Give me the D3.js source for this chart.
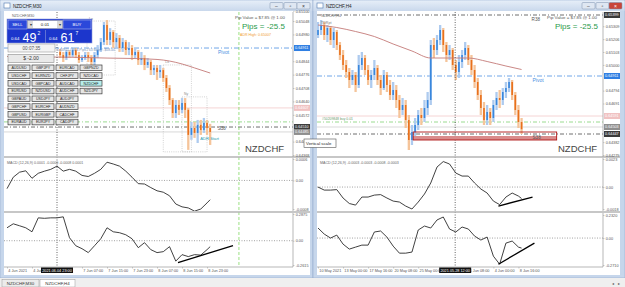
<!DOCTYPE html>
<html>
<head>
<meta charset="utf-8">
<script src="https://cdn.jsdelivr.net/npm/d3@7/dist/d3.min.js"></script>
<style>
  body { margin: 0; background: #f0f0f0; }
  svg { display: block; font-family: "Liberation Sans", Arial, sans-serif; }
</style>
</head>
<body>
<svg id="chart" width="625" height="287"></svg>
<script>
// ---------------- NZDCHF,M30 (left window) ----------------
var m30Start = 17;
// open, high, low, close
var m30Candles = [
  [0.64891,0.64906,0.64860,0.64875],[0.64875,0.64891,0.64840,0.64860],[0.64860,0.64901,0.64850,0.64891],
  [0.64891,0.64901,0.64860,0.64875],[0.64875,0.64916,0.64865,0.64901],[0.64901,0.64911,0.64860,0.64875],
  [0.64875,0.64891,0.64835,0.64850],[0.64850,0.64875,0.64840,0.64860],[0.64860,0.64891,0.64850,0.64875],
  [0.64875,0.64891,0.64840,0.64860],[0.64860,0.64875,0.64810,0.64840],[0.64840,0.64891,0.64825,0.64875],
  [0.64875,0.64926,0.64860,0.64901],[0.64901,0.64962,0.64891,0.64941],[0.64941,0.65043,0.64926,0.65028],
  [0.65028,0.65053,0.64926,0.64952],[0.64952,0.65012,0.64926,0.64992],[0.64992,0.65002,0.64911,0.64941],
  [0.64941,0.64987,0.64911,0.64962],[0.64962,0.64977,0.64891,0.64911],[0.64911,0.64962,0.64891,0.64941],
  [0.64941,0.64952,0.64875,0.64901],[0.64901,0.64941,0.64875,0.64911],[0.64911,0.64926,0.64850,0.64875],
  [0.64875,0.64911,0.64860,0.64891],[0.64891,0.64901,0.64825,0.64850],[0.64850,0.64891,0.64825,0.64860],
  [0.64860,0.64875,0.64799,0.64825],[0.64825,0.64860,0.64810,0.64840],[0.64840,0.64850,0.64774,0.64799],
  [0.64799,0.64825,0.64774,0.64810],[0.64810,0.64825,0.64749,0.64789],[0.64789,0.64825,0.64759,0.64799],
  [0.64799,0.64810,0.64739,0.64759],[0.64759,0.64774,0.64688,0.64708],[0.64708,0.64723,0.64622,0.64647],
  [0.64647,0.64657,0.64556,0.64581],[0.64581,0.64647,0.64556,0.64622],[0.64622,0.64647,0.64571,0.64597],
  [0.64597,0.64657,0.64581,0.64632],[0.64632,0.64657,0.64556,0.64597],[0.64597,0.64607,0.64394,0.64470],
  [0.64470,0.64536,0.64445,0.64505],[0.64505,0.64536,0.64455,0.64480],[0.64480,0.64546,0.64429,0.64521],
  [0.64521,0.64546,0.64470,0.64495],[0.64495,0.64556,0.64480,0.64531],[0.64531,0.64546,0.64470,0.64505],
  [0.64505,0.64526,0.64419,0.64485]
];
var m30MaT = [0, 8, 16, 24, 32, 40, 48, 52, 56, 60, 65];
var m30Ma = [0.64868, 0.64865, 0.64865, 0.64863, 0.64860, 0.64858, 0.64853, 0.64845, 0.64830, 0.64810, 0.64784];
var m30LevelPrices = [0.64911, 0.64607, 0.64536, 0.64510, 0.64485];
var m30LevelKinds = ["pivot", "pink", "green", "dark", "bid"];
// labels hidden under the level boxes are left out
var m30PriceTicks = [0.64368, 0.64436, 0.64572, 0.64640, 0.64708, 0.64776, 0.64844, 0.64980, 0.65048, 0.65100];
var m30Macd = [-0.00023, 0.00009, 0.00023, 0.00027, 0.00006, 0.00020, 0.00026, 0.00031, 0.00040, 0.00026, 0.00031, 0.00026,
  0.00014, 0.00011, 0.00020, 0.00031, 0.00051, 0.00046, 0.00040, 0.00026, 0.00009, -0.00009, -0.00010, -0.00020,
  -0.00029, -0.00033, -0.00043, -0.00066, -0.00074, -0.00077, -0.00086, -0.00080, -0.00063, -0.00054];
var m30Osc = [0.139, 0.182, 0.161, 0.139, 0.096, 0.246, 0.241, 0.246, 0.246, 0.257, 0.032, -0.054, -0.086, -0.128,
  -0.054, 0.021, 0.139, 0.096, 0.086, 0.064, 0.021, -0.075, -0.021, -0.096, -0.128, -0.118, -0.064, -0.220,
  -0.150, -0.171, -0.150, -0.155, -0.096, -0.064];
var m30MacdTicks = [0.0006, 0, -0.0008];
var m30MacdLabels = ["0.0006", "0.00", "-0.0008"];
var m30OscTicks = [0.2875, 0, -0.2615];
var m30OscLabels = ["0.2875", "0.00", "-0.2615"];
// the 4 Jun 23:00 label sits under the cursor box, so it is not listed
var m30TimeTicks = [0, 8, 24, 32, 40, 48, 56, 64];
var m30TimeLabels = ["4 Jun 2021", "4 Jun 15:00", "7 Jun 07:00", "7 Jun 15:00", "7 Jun 23:00",
  "8 Jun 07:00", "8 Jun 15:00", "8 Jun 23:00"];
var m30Cursor = 16, m30CursorLabel = "2021.06.04 23:00";
var m30GreenLine = 74.2;
var m30Trend = [[54.7, -0.235], [72.3, -0.054]];
// t0, t1, top price, bottom price
var m30Sessions = [[25.6, 34.6, 0.65048, 0.64774], [50, 59, 0.64825, 0.64384], [56, 64, 0.64663, 0.64384]];
var m30SessionNames = ["Lo", "Lo", "Ny"];

// ---------------- NZDCHF,H4 (right window) ----------------
var h4Start = 0;
var h4Candles = [
  [0.65239,0.65343,0.65215,0.65279],[0.65279,0.65359,0.65239,0.65319],[0.65319,0.65343,0.65199,0.65239],
  [0.65239,0.65319,0.65183,0.65295],[0.65295,0.65311,0.65159,0.65199],[0.65199,0.65295,0.65135,0.65263],
  [0.65263,0.65279,0.65119,0.65159],[0.65159,0.65183,0.65039,0.65079],[0.65079,0.65119,0.64959,0.64999],
  [0.64999,0.65039,0.64895,0.64943],[0.64943,0.64975,0.64815,0.64879],[0.64879,0.64959,0.64839,0.64919],
  [0.64919,0.64943,0.64783,0.64839],[0.64839,0.65079,0.64815,0.64999],[0.64999,0.65103,0.64959,0.65055],
  [0.65055,0.65079,0.64919,0.64959],[0.64959,0.64999,0.64839,0.64879],[0.64879,0.64959,0.64815,0.64919],
  [0.64919,0.65039,0.64879,0.64975],[0.64975,0.64999,0.64839,0.64879],[0.64879,0.64919,0.64759,0.64815],
  [0.64815,0.64959,0.64799,0.64919],[0.64919,0.64943,0.64783,0.64839],[0.64839,0.64879,0.64719,0.64759],
  [0.64759,0.64863,0.64719,0.64799],[0.64799,0.64839,0.64655,0.64719],[0.64719,0.64759,0.64575,0.64639],
  [0.64639,0.64735,0.64599,0.64679],[0.64679,0.64719,0.64495,0.64559],[0.64559,0.64599,0.64319,0.64399],
  [0.64399,0.64519,0.64359,0.64463],[0.64463,0.64575,0.64415,0.64519],[0.64519,0.64639,0.64479,0.64599],
  [0.64599,0.64655,0.64519,0.64575],[0.64575,0.64719,0.64543,0.64655],[0.64655,0.64783,0.64599,0.64719],
  [0.64719,0.65199,0.64679,0.65159],[0.65159,0.65215,0.65055,0.65119],[0.65119,0.65239,0.65079,0.65199],
  [0.65199,0.65319,0.65159,0.65279],[0.65279,0.65295,0.65103,0.65159],[0.65159,0.65183,0.65023,0.65079],
  [0.65079,0.65159,0.65039,0.65119],[0.65119,0.65135,0.64959,0.64999],[0.64999,0.65039,0.64879,0.64943],
  [0.64943,0.65079,0.64895,0.65023],[0.65023,0.65119,0.64975,0.65079],[0.65079,0.65183,0.65039,0.65135],
  [0.65135,0.65159,0.64999,0.65039],[0.65039,0.65079,0.64919,0.64959],[0.64959,0.64999,0.64815,0.64863],
  [0.64863,0.64895,0.64719,0.64759],[0.64759,0.64799,0.64599,0.64655],[0.64655,0.64703,0.64519,0.64559],
  [0.64559,0.64679,0.64519,0.64623],[0.64623,0.64655,0.64519,0.64575],[0.64575,0.64719,0.64543,0.64679],
  [0.64679,0.64783,0.64639,0.64735],[0.64735,0.64799,0.64655,0.64719],[0.64719,0.64815,0.64679,0.64783],
  [0.64783,0.64863,0.64735,0.64815],[0.64815,0.64895,0.64783,0.64863],[0.64863,0.64879,0.64719,0.64759],
  [0.64759,0.64783,0.64599,0.64639],[0.64639,0.64679,0.64495,0.64543],[0.64543,0.64575,0.64447,0.64485]
];
var h4MaT = [0, 6, 12, 18, 24, 30, 36, 42, 48, 54, 60, 65];
var h4Ma = [0.65319, 0.65299, 0.65267, 0.65227, 0.65167, 0.65111, 0.65055, 0.65055, 0.65055, 0.65027, 0.64991, 0.64963];
var h4LevelPrices = [0.65399, 0.64911, 0.64591, 0.64543, 0.64503, 0.64447];
var h4LevelKinds = ["dark", "pivot", "pink", "green", "bid", "dark"];
// labels hidden under the level boxes are left out
var h4PriceTicks = [0.64279, 0.64382, 0.64691, 0.64794, 0.65000, 0.65103, 0.65206, 0.65309];
var h4Macd = [0, -0.00025, -0.00025, -0.00021, -0.00090, -0.00135, -0.00148, -0.00082, -0.00082, -0.00066, -0.00062,
  -0.00090, -0.00115, -0.00123, -0.00156, -0.00180, -0.00123, -0.00057, 0.00033, 0.00164, 0.00209, 0.00189, 0.00115,
  0.00090, 0.00090, 0.00033, -0.00016, -0.00049, -0.00115, -0.00144, -0.00082, -0.00049, -0.00074, -0.00094];
var h4Osc = [0.101, 0.040, 0, 0.030, -0.061, -0.111, -0.091, -0.071, -0.071, 0.061, 0.071, 0.010, -0.081, -0.152,
  -0.152, -0.141, 0.081, 0.121, 0.101, 0.182, 0.212, 0.091, 0.061, 0.111, 0.091, 0.020, -0.020, 0.010, -0.182,
  -0.263, -0.051, -0.030, -0.091, -0.101];
var h4MacdTicks = [0.0023, 0, -0.0018];
var h4MacdLabels = ["0.0023", "0.00", "-0.0018"];
var h4OscTicks = [0.232, 0, -0.271];
var h4OscLabels = ["0.2320", "0.00", "-0.2710"];
// the 27 May label sits under the cursor box, so it is not listed
var h4TimeTicks = [0, 8, 16, 24, 32, 48, 56, 64];
var h4TimeLabels = ["10 May 2021", "13 May 00:00", "17 May 16:00", "20 May 08:00", "25 May 00:00",
  "1 Jun 08:00", "4 Jun 00:00", "8 Jun 16:00"];
var h4Cursor = 43.8, h4CursorLabel = "2021.05.28 12:00";
var h4MacdTrend = [[57.6, -0.00156], [68.5, -0.00082]];
var h4Trend = [[57.6, -0.263], [69.1, -0.051]];
var h4Zone = [30.4, 76.2, 0.64463, 0.64399, 0.64431];

// trade panel
var panelSymbols = [
  ["AUDUSD", "GBPJPY", "EURCAD", "GBPNZD"],
  ["USDCHF", "EURNZD", "CHFJPY", "NZDCAD"],
  ["USDCAD", "GBPCAD", "AUDCAD", "NZDCHF"],
  ["EURUSD", "NZDUSD", "AUDCHF", "NZDJPY"],
  ["GBPAUD", "USDJPY", "AUDJPY"],
  ["GBPCHF", "EURCHF", "AUDNZD"],
  ["GBPUSD", "EURGBP", "CADCHF"],
  ["EURAUD", "EURJPY", "CADJPY"]
];
var bidParts = ["0.64", "49", "2"];
var askParts = ["0.64", "61", "7"];

var oscT = d3.range(0, 65, 2).concat([65]);

// ---------------------------------------------------------
var svg = d3.select("#chart");
var fmt5 = d3.format(".5f");
var small = 3.8;

var defs = svg.append("defs");
var tg = defs.append("linearGradient").attr("id", "titleGrad").attr("x1", 0).attr("y1", 0).attr("x2", 0).attr("y2", 1);
tg.append("stop").attr("offset", "0%").attr("stop-color", "#e6eef8");
tg.append("stop").attr("offset", "100%").attr("stop-color", "#c9d8ec");

svg.append("rect").attr("width", 625).attr("height", 287).attr("fill", "#f0f0f0");

function drawWindow(x0, x1, title, closeRed) {
  svg.append("rect").attr("x", x0).attr("y", 0).attr("width", x1 - x0).attr("height", 278)
    .attr("fill", "#c6d6eb").attr("stroke", "#93aacb").attr("stroke-width", 0.6);
  svg.append("rect").attr("x", x0 + 0.5).attr("y", 0.5).attr("width", x1 - x0 - 1).attr("height", 10.5)
    .attr("fill", "url(#titleGrad)");
  svg.append("rect").attr("x", x0 + 4).attr("y", 3).attr("width", 6).attr("height", 5)
    .attr("fill", "#fff").attr("stroke", "#4f78b0").attr("stroke-width", 0.6);
  svg.append("text").attr("x", x0 + 13).attr("y", 7.6).attr("font-size", 4.6).attr("fill", "#222").text(title);
  [x1 - 43, x1 - 29, x1 - 16].forEach(function(b, i) {
    var red = (i == 2 && closeRed);
    svg.append("rect").attr("x", b).attr("y", 2.5).attr("width", 13).attr("height", 6.5).attr("rx", 1)
      .attr("fill", red ? "#c8453a" : "#dfe7f2").attr("stroke", "#7d91ae").attr("stroke-width", 0.5);
    svg.append("text").attr("x", b + 6.5).attr("y", 7.6).attr("text-anchor", "middle").attr("font-size", 5)
      .attr("fill", red ? "#fff" : "#333").text(["–", "▫", "×"][i]);
  });
}

drawWindow(0, 313, "NZDCHF,M30", false);
drawWindow(313, 625, "NZDCHF,H4", true);

function drawChart(c) {
  var g = svg.append("g");
  g.append("rect").attr("x", c.left).attr("y", 11).attr("width", c.right - c.left).attr("height", 264).attr("fill", "#fff");

  var x = d3.scaleLinear().domain(c.tDomain).range([c.dataX, c.axisX]);
  var y = d3.scaleLinear().domain(c.pDomain).range([155, c.pTopY]);
  var ym = d3.scaleLinear().domain([c.macdTicks[2], c.macdTicks[0]]).range([209, 159]);
  var yo = d3.scaleLinear().domain([c.oscTicks[2], c.oscTicks[0]]).range([265, c.oscTopY]);

  var clipMain = "clipMain" + c.id, clipM = "clipM" + c.id, clipO = "clipO" + c.id;
  defs.append("clipPath").attr("id", clipMain).append("rect")
    .attr("x", c.left).attr("y", 12).attr("width", c.axisX - c.left).attr("height", 145);
  defs.append("clipPath").attr("id", clipM).append("rect")
    .attr("x", c.left).attr("y", 158).attr("width", c.axisX - c.left).attr("height", 53);
  defs.append("clipPath").attr("id", clipO).append("rect")
    .attr("x", c.left).attr("y", 213).attr("width", c.axisX - c.left).attr("height", 54);

  var main = g.append("g").attr("clip-path", "url(#" + clipMain + ")");

  // price levels
  var lvStyle = {
    pivot: {stroke: "#4b90e2", dash: "5,2,1,2", box: "#2f7fe3"},
    pink: {stroke: "#f3c9c9", dash: null, box: "#f0c2c2"},
    green: {stroke: "#82d274", dash: "4,2,1,2", box: null},
    dark: {stroke: "#4a4a4a", dash: "4,2,1,2", box: "#3a3a3a"},
    bid: {stroke: "#cfcfcf", dash: null, box: "#8e8e8e"}
  };
  c.levelPrices.forEach(function(p, i) {
    var s = lvStyle[c.levelKinds[i]];
    main.append("line").attr("x1", c.left).attr("x2", c.axisX).attr("y1", y(p)).attr("y2", y(p))
      .attr("stroke", s.stroke).attr("stroke-width", 0.8).attr("stroke-dasharray", s.dash);
  });

  // dotted cursor line + green vertical
  [[c.cursor, "#222", "1,1.5"]].concat(c.greenLine != null ? [[c.greenLine, "#6fd24a", "3,2"]] : [])
    .forEach(function(v) {
      g.append("line").attr("x1", x(v[0])).attr("x2", x(v[0])).attr("y1", 12).attr("y2", 267)
        .attr("stroke", v[1]).attr("stroke-width", 0.7).attr("stroke-dasharray", v[2]);
    });

  // session boxes
  (c.sessions || []).forEach(function(s, i) {
    main.append("rect").attr("x", x(s[0])).attr("y", y(s[2])).attr("width", x(s[1]) - x(s[0]))
      .attr("height", y(s[3]) - y(s[2])).attr("fill", "none").attr("stroke", "#b4b4b4")
      .attr("stroke-width", 0.6).attr("stroke-dasharray", "1,1.2");
    main.append("text").attr("x", x(s[0]) + 2).attr("y", y(s[2]) - 1.5).attr("font-size", 3.4)
      .attr("fill", "#888").text(c.sessionNames[i]);
  });

  // zone rectangle
  if (c.zone) {
    var z = c.zone;
    g.append("rect").attr("x", x(z[0])).attr("y", y(z[4])).attr("width", x(z[1]) - x(z[0]))
      .attr("height", y(z[3]) - y(z[4])).attr("fill", "#d98c8c");
    g.append("rect").attr("x", x(z[0])).attr("y", y(z[2])).attr("width", x(z[1]) - x(z[0]))
      .attr("height", y(z[3]) - y(z[2])).attr("fill", "none").attr("stroke", "#b01818").attr("stroke-width", 0.9);
  }

  // candles
  var bars = main.selectAll(null).data(c.candles).enter().append("g");
  bars.append("line")
    .attr("x1", function(d, i) { return x(c.start + i); })
    .attr("x2", function(d, i) { return x(c.start + i); })
    .attr("y1", function(d) { return y(d[1]); })
    .attr("y2", function(d) { return y(d[2]); })
    .attr("stroke", function(d) { return d[3] >= d[0] ? "#aecbef" : "#f5c49a"; })
    .attr("stroke-width", 2.3);
  bars.append("rect")
    .attr("x", function(d, i) { return x(c.start + i) - 0.8; })
    .attr("width", 1.6)
    .attr("y", function(d) { return y(Math.max(d[0], d[3])); })
    .attr("height", function(d) { return Math.max(0.8, Math.abs(y(d[0]) - y(d[3]))); })
    .attr("fill", function(d) { return d[3] >= d[0] ? "#3987dd" : "#e8701c"; });

  // moving average
  main.append("path").datum(c.maT.map(function(t, i) { return [t, c.ma[i]]; }))
    .attr("fill", "none").attr("stroke", "#c47a78").attr("stroke-width", 0.9)
    .attr("d", d3.line().x(function(d) { return x(d[0]); }).y(function(d) { return y(d[1]); }).curve(d3.curveMonotoneX));

  // oscillators
  var mg = g.append("g").attr("clip-path", "url(#" + clipM + ")");
  var og = g.append("g").attr("clip-path", "url(#" + clipO + ")");
  mg.append("line").attr("x1", c.left).attr("x2", c.axisX).attr("y1", ym(0)).attr("y2", ym(0))
    .attr("stroke", "#666").attr("stroke-width", 0.6).attr("stroke-dasharray", "1,1.5");
  og.append("line").attr("x1", c.left).attr("x2", c.axisX).attr("y1", yo(0)).attr("y2", yo(0))
    .attr("stroke", "#666").attr("stroke-width", 0.6).attr("stroke-dasharray", "1,1.5");
  mg.append("path").datum(c.macd).attr("fill", "none").attr("stroke", "#2b2b2b").attr("stroke-width", 0.9)
    .attr("d", d3.line().x(function(d, i) { return x(oscT[i]); }).y(function(d) { return ym(d); }));
  og.append("path").datum(c.osc).attr("fill", "none").attr("stroke", "#2b2b2b").attr("stroke-width", 0.9)
    .attr("d", d3.line().x(function(d, i) { return x(oscT[i]); }).y(function(d) { return yo(d); }));
  if (c.macdTrend) {
    mg.append("line").attr("x1", x(c.macdTrend[0][0])).attr("y1", ym(c.macdTrend[0][1]))
      .attr("x2", x(c.macdTrend[1][0])).attr("y2", ym(c.macdTrend[1][1]))
      .attr("stroke", "#000").attr("stroke-width", 1.3);
  }
  og.append("line").attr("x1", x(c.trend[0][0])).attr("y1", yo(c.trend[0][1]))
    .attr("x2", x(c.trend[1][0])).attr("y2", yo(c.trend[1][1]))
    .attr("stroke", "#000").attr("stroke-width", 1.3);
  g.append("text").attr("x", c.left + 3).attr("y", 164).attr("font-size", 3.6).attr("fill", "#666").text(c.macdTitle);

  // separators and axes lines
  [157, 212].forEach(function(yy) {
    g.append("line").attr("x1", c.left).attr("x2", c.right).attr("y1", yy).attr("y2", yy)
      .attr("stroke", "#b5b5b5").attr("stroke-width", 1.6);
  });

  var styleAxis = function(sel) {
    sel.select(".domain").attr("stroke", "#9a9a9a").attr("stroke-width", 0.7);
    sel.selectAll(".tick line").attr("stroke", "#9a9a9a").attr("stroke-width", 0.5);
    sel.selectAll(".tick text").attr("font-size", small).attr("fill", "#555").attr("font-family", null);
  };
  var pa = g.append("g").attr("transform", "translate(" + c.axisX + ",0)")
    .call(d3.axisRight(y).tickValues(c.priceTicks).tickSize(1.5).tickPadding(1.2).tickFormat(fmt5));
  pa.select(".domain").attr("d", "M0,12V157");
  styleAxis(pa);
  var ma = g.append("g").attr("transform", "translate(" + c.axisX + ",0)")
    .call(d3.axisRight(ym).tickValues(c.macdTicks).tickSize(1.5).tickPadding(1.2)
      .tickFormat(function(d, i) { return c.macdLabels[i]; }));
  ma.select(".domain").attr("d", "M0,158V211");
  styleAxis(ma);
  var oa = g.append("g").attr("transform", "translate(" + c.axisX + ",0)")
    .call(d3.axisRight(yo).tickValues(c.oscTicks).tickSize(1.5).tickPadding(1.2)
      .tickFormat(function(d, i) { return c.oscLabels[i]; }));
  oa.select(".domain").attr("d", "M0,213V267");
  styleAxis(oa);

  var ta = g.append("g").attr("transform", "translate(0,267)")
    .call(d3.axisBottom(x).tickValues(c.timeTicks).tickSize(1.5).tickPadding(1)
      .tickFormat(function(d, i) { return c.timeLabels[i]; }));
  ta.select(".domain").attr("d", "M" + c.left + ",0H" + c.axisX);
  styleAxis(ta);
  ta.selectAll(".tick text").attr("text-anchor", "start").attr("dx", 0.8);

  // level boxes on the price axis
  c.levelPrices.forEach(function(p, i) {
    var s = lvStyle[c.levelKinds[i]];
    if (!s.box) return;
    g.append("rect").attr("x", c.axisX + 1).attr("y", y(p) - 3).attr("width", 16).attr("height", 6)
      .attr("fill", s.box);
    g.append("text").attr("x", c.axisX + 2).attr("y", y(p) + 1.4).attr("font-size", small)
      .attr("fill", "#fff").text(fmt5(p));
  });

  // cursor time box
  g.append("rect").attr("x", x(c.cursor) - 16).attr("y", 267.5).attr("width", 32).attr("height", 5.5).attr("fill", "#111");
  g.append("text").attr("x", x(c.cursor)).attr("y", 271.8).attr("text-anchor", "middle")
    .attr("font-size", small).attr("fill", "#fff").text(c.cursorLabel);

  return {x: x, y: y, g: g};
}

var L = drawChart({
  id: "L", left: 4, right: 310, dataX: 7, axisX: 293, tDomain: [0, 91.5],
  pDomain: [0.64368, 0.65104], pTopY: 10, oscTopY: 214,
  candles: m30Candles, start: m30Start, maT: m30MaT, ma: m30Ma,
  levelPrices: m30LevelPrices, levelKinds: m30LevelKinds, priceTicks: m30PriceTicks,
  macd: m30Macd, osc: m30Osc, macdTicks: m30MacdTicks, macdLabels: m30MacdLabels,
  oscTicks: m30OscTicks, oscLabels: m30OscLabels, timeTicks: m30TimeTicks, timeLabels: m30TimeLabels,
  cursor: m30Cursor, cursorLabel: m30CursorLabel, greenLine: m30GreenLine, trend: m30Trend,
  sessions: m30Sessions, sessionNames: m30SessionNames,
  macdTitle: "MACD (12,26,9) 0.0001 -0.0000 -0.0008 0.0001"
});

var R = drawChart({
  id: "R", left: 317, right: 620, dataX: 318, axisX: 603, tDomain: [0, 91],
  pDomain: [0.64279, 0.65391], pTopY: 16, oscTopY: 215,
  candles: h4Candles, start: h4Start, maT: h4MaT, ma: h4Ma,
  levelPrices: h4LevelPrices, levelKinds: h4LevelKinds, priceTicks: h4PriceTicks,
  macd: h4Macd, osc: h4Osc, macdTicks: h4MacdTicks, macdLabels: h4MacdLabels,
  oscTicks: h4OscTicks, oscLabels: h4OscLabels, timeTicks: h4TimeTicks, timeLabels: h4TimeLabels,
  cursor: h4Cursor, cursorLabel: h4CursorLabel, greenLine: null, trend: h4Trend, macdTrend: h4MacdTrend,
  zone: h4Zone, macdTitle: "MACD (12,26,9) -0.0003 -0.0003 -0.0008 -0.0003"
});

// ---- chart texts ----
function label(x, y, size, color, txt, anchor) {
  svg.append("text").attr("x", x).attr("y", y).attr("font-size", size).attr("fill", color)
    .attr("text-anchor", anchor || "start").text(txt);
}
label(12, 17, 3.6, "#666", "NZDCHF,M30");
label(321, 17, 3.6, "#666", "NZDCHF,H4");
label(321, 23.5, 3.6, "#777", "TDRpt");
label(235, 19, 4.4, "#555", "Pip Value = $7.85 @ 1.00");
label(242, 29, 8, "#2b9a4c", "Pips = -25.5");
label(240, 35.5, 3.6, "#f0a030", "ADR High: 0.65007");
label(L.x(67.5), L.y(m30LevelPrices[0]) + 5.5, 5, "#4b90e2", "Pivot");
label(L.x(67.4), L.y(m30LevelPrices[3]) + 3, 4.6, "#555", "S38");
label(L.x(61.8), 140, 4.2, "#2a9db0", "ADR Start");
label(245, 152, 9.5, "#444", "NZDCHF");

label(547, 19, 4.4, "#555", "Pip Value = $7.85 @ 1.00");
label(555, 29, 8, "#2b9a4c", "Pips = -25.5");
label(R.x(68.2), R.y(h4LevelPrices[0]) + 5.5, 4.6, "#555", "R38");
label(R.x(68.5), R.y(h4LevelPrices[1]) + 5.5, 5, "#4b90e2", "Pivot");
label(R.x(68.5), R.y(h4LevelPrices[5]) + 4.5, 4.6, "#555", "S38");
label(322, 120, 3.4, "#6a9a6a", "#50209848 buy 0.01");
label(558, 152, 9.5, "#444", "NZDCHF");

// ---- one-click trade panel (left window) ----
var p = svg.append("g");
p.append("rect").attr("x", 7).attr("y", 19).attr("width", 85).attr("height", 24).attr("fill", "#1c36cc")
  .attr("stroke", "#8d9bdc").attr("stroke-width", 0.6);
[[8, 19, "SELL"], [63, 28, "BUY"]].forEach(function(b) {
  p.append("rect").attr("x", b[0]).attr("y", 20).attr("width", b[1]).attr("height", 9).attr("fill", "#2b48da")
    .attr("stroke", "#c0c8f0").attr("stroke-width", 0.5);
  p.append("text").attr("x", b[0] + b[1] / 2).attr("y", 26.3).attr("text-anchor", "middle").attr("font-size", 4.3)
    .attr("fill", "#fff").text(b[2]);
});
p.append("rect").attr("x", 27.5).attr("y", 20.5).attr("width", 35).attr("height", 8).attr("fill", "#fff")
  .attr("stroke", "#999").attr("stroke-width", 0.5);
[28, 57].forEach(function(bx) {
  p.append("rect").attr("x", bx).attr("y", 21).attr("width", 5).attr("height", 7).attr("fill", "#d9d9d9");
  p.append("text").attr("x", bx + 2.5).attr("y", 26).attr("text-anchor", "middle").attr("font-size", 3.5)
    .attr("fill", "#333").text("▾");
});
p.append("text").attr("x", 45).attr("y", 26.4).attr("text-anchor", "middle").attr("font-size", 4.4).attr("fill", "#222").text("0.01");
p.append("line").attr("x1", 45.5).attr("x2", 45.5).attr("y1", 30).attr("y2", 43).attr("stroke", "#8d9bdc").attr("stroke-width", 0.6);
[[bidParts, 11], [askParts, 49]].forEach(function(q) {
  var bx = q[1], parts = q[0];
  p.append("text").attr("x", bx).attr("y", 40).attr("font-size", 4.3).attr("fill", "#fff").text(parts[0]);
  p.append("text").attr("x", bx + 11.5).attr("y", 41.5).attr("font-size", 12.5).attr("fill", "#fff").text(parts[1]);
  p.append("text").attr("x", bx + 26.5).attr("y", 34.5).attr("font-size", 5).attr("fill", "#fff").text(parts[2]);
});
p.append("rect").attr("x", 8).attr("y", 44).attr("width", 47).attr("height", 8).attr("fill", "#f4f4f4")
  .attr("stroke", "#9a9a9a").attr("stroke-width", 0.6);
p.append("text").attr("x", 31.5).attr("y", 49.8).attr("text-anchor", "middle").attr("font-size", 4.6).attr("fill", "#555").text("00:07:35");
label(57, 50.5, 3.4, "#7390b8", "0.64911 / 74.4 Pips / 63 Bars / -$58.40");
p.append("rect").attr("x", 8).attr("y", 54.5).attr("width", 46).attr("height", 8).attr("fill", "#e9e9e9")
  .attr("stroke", "#8a8a8a").attr("stroke-width", 0.6);
p.append("text").attr("x", 31).attr("y", 60.3).attr("text-anchor", "middle").attr("font-size", 5).attr("fill", "#333").text("$ -2.00");
panelSymbols.forEach(function(row, r) {
  row.forEach(function(sym, col) {
    var bx = 8 + col * 24, by = 65 + r * 7.75;
    p.append("rect").attr("x", bx).attr("y", by).attr("width", 22).attr("height", 5.6)
      .attr("fill", sym == "NZDCHF" ? "#b6eeec" : "#e6e6e6").attr("stroke", "#3c3c3c").attr("stroke-width", 0.7);
    p.append("text").attr("x", bx + 11).attr("y", by + 4.1).attr("text-anchor", "middle").attr("font-size", 3.6)
      .attr("fill", "#222").text(sym);
  });
});

// ---- tooltip ----
svg.append("rect").attr("x", 304).attr("y", 139).attr("width", 32).attr("height", 8.5).attr("fill", "#fff")
  .attr("stroke", "#555").attr("stroke-width", 0.6);
label(306, 145.2, 4.3, "#222", "Vertical scale");

// ---- bottom tab bar ----
svg.append("rect").attr("x", 0).attr("y", 278).attr("width", 625).attr("height", 9).attr("fill", "#efefef");
[[2, 37, "NZDCHF,M30", "#ececec"], [40, 35, "NZDCHF,H4", "#fff"]].forEach(function(t) {
  svg.append("rect").attr("x", t[0]).attr("y", 279.5).attr("width", t[1]).attr("height", 7.5)
    .attr("fill", t[3]).attr("stroke", "#9a9a9a").attr("stroke-width", 0.5);
  label(t[0] + t[1] / 2, 285.3, 4.4, "#333", t[2], "middle");
});
label(612, 285, 4, "#555", "◂");
label(618, 285, 4, "#555", "▸");
</script>
</body>
</html>
